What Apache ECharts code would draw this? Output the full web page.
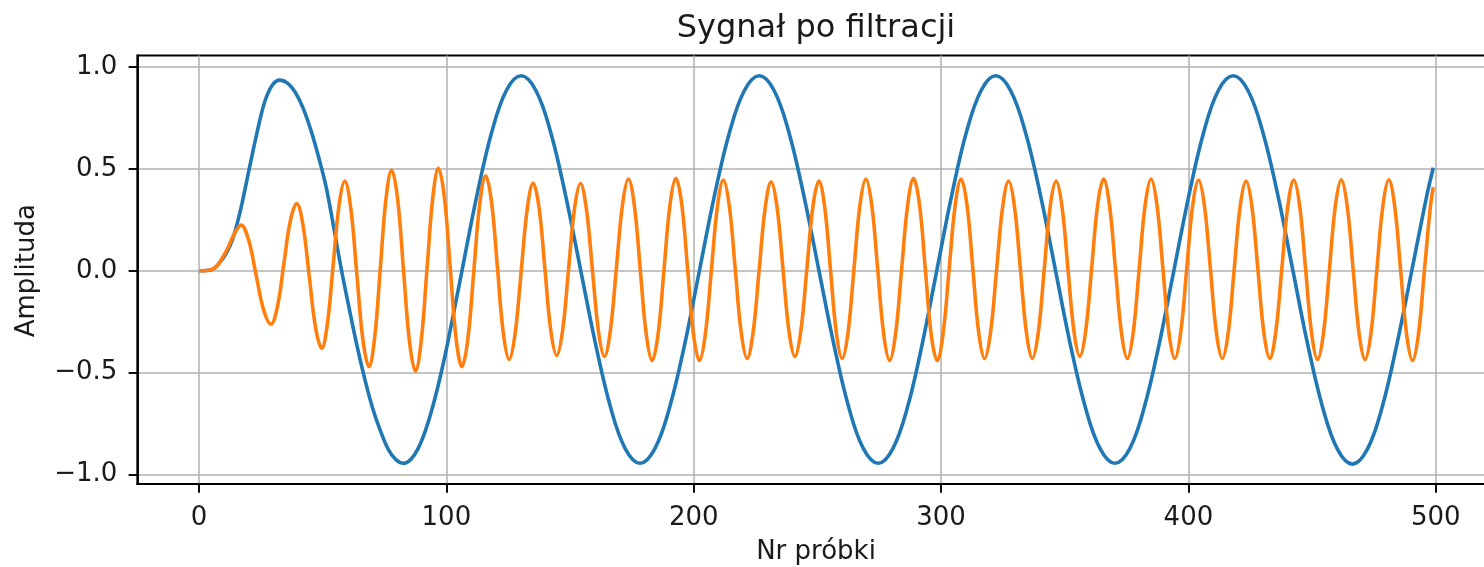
<!DOCTYPE html>
<html><head><meta charset="utf-8">
<script src="https://cdn.jsdelivr.net/npm/echarts@6/dist/echarts.min.js"></script>
<style>html,body{margin:0;padding:0;background:#fff}#c{width:1484px;height:567px}</style>
</head><body><div id="c"></div>
<script>
const titleText = 'Sygnał po filtracji';
const xName = 'Nr próbki';
const yName = 'Amplituda';
const xTicks = [0, 100, 200, 300, 400, 500];
const yTicks = [-1, -0.5, 0, 0.5, 1];

// blue trace: [sample, amplitude]
const blue = [
[0,0],[5,0.005],[8,0.035],[11,0.085],[14,0.17],[17,0.31],[20.3,0.5],[23.5,0.68],[26.6,0.83],[29.6,0.91],[32.7,0.935],
[35.8,0.92],[38.9,0.875],[42.0,0.8],[45.2,0.69],[48.3,0.56],[51.4,0.41],[54.5,0.21],[57.65,0.0],[60.8,-0.19],[63.9,-0.37],
[67.0,-0.53],[70.1,-0.67],[73.2,-0.78],[76.4,-0.873],[79.5,-0.925],[82.6,-0.944],[85.6,-0.925],[88.55,-0.872],
[91.5,-0.785],[94.5,-0.666],[97.5,-0.521],[100.45,-0.358],[106.4,0.006],[112.35,0.37],[118.3,0.678],[124.25,0.884],[130.2,0.956],
[136.2,0.884],[142.2,0.678],[148.2,0.37],[154.25,0.006],[160.3,-0.358],[166.3,-0.666],[172.3,-0.872],[178.3,-0.944],
[184.3,-0.872],[190.35,-0.666],[196.4,-0.358],[202.4,0.006],[208.4,0.37],[214.45,0.678],[220.5,0.884],[226.5,0.956],
[232.5,0.884],[238.5,0.678],[244.5,0.37],[250.55,0.006],[256.6,-0.358],[262.6,-0.666],[268.6,-0.872],[274.6,-0.944],
[280.5,-0.872],[286.5,-0.666],[292.4,-0.358],[298.35,0.006],[304.3,0.37],[310.2,0.678],[316.2,0.884],[322.1,0.956],
[328.1,0.884],[334.15,0.678],[340.2,0.37],[346.2,0.006],[352.2,-0.358],[358.25,-0.666],[364.3,-0.872],[370.3,-0.944],
[376.3,-0.872],[382.25,-0.666],[388.2,-0.358],[394.2,0.006],[400.2,0.37],[406.15,0.678],[412.1,0.884],[418.1,0.956],
[424.1,0.884],[430.15,0.677],[436.2,0.368],[442.2,0.004],[448.2,-0.36],[454.25,-0.669],[460.3,-0.876],[466.3,-0.948],
[472.3,-0.876],[478.3,-0.67],[484.3,-0.36],[490.3,0.0],[496.3,0.364],[499,0.505]
];

// orange trace: [sample, amplitude]
const orange = [
[0,0],[4,0.003],[7,0.02],[10,0.075],[12,0.12],[14,0.175],[17,0.224],
[20.0,0.153],[23.05,-0.019],[26.1,-0.191],[29.1,-0.262],
[31.7,-0.176],[34.3,0.034],[36.9,0.244],[39.5,0.33],
[42.0,0.227],[44.55,-0.025],[47.1,-0.277],[49.6,-0.38],
[51.9,-0.26],[54.25,0.03],[56.6,0.32],[58.9,0.44],
[61.35,0.307],[63.8,-0.015],[66.25,-0.337],[68.7,-0.47],
[71.0,-0.329],[73.3,0.012],[75.6,0.353],[77.9,0.494],
[80.3,0.35],[82.7,0.001],[85.1,-0.348],[87.5,-0.492],
[89.8,-0.347],[92.15,0.005],[94.5,0.357],[96.8,0.502],
[99.2,0.36],[101.55,0.016],[103.9,-0.328],[106.3,-0.47],
[108.7,-0.333],[111.1,-0.002],[113.5,0.329],[115.9,0.466],
[118.3,0.334],[120.65,0.016],[123.0,-0.303],[125.4,-0.435],
[127.8,-0.308],[130.25,-0.003],[132.7,0.303],[135.1,0.43],
[137.5,0.306],[139.85,0.008],[142.2,-0.291],[144.6,-0.415],
[147.0,-0.292],[149.4,0.007],[151.8,0.304],[154.2,0.428],
[156.6,0.304],[159.05,0.004],[161.5,-0.296],[163.9,-0.42],
[166.3,-0.293],[168.75,0.015],[171.2,0.323],[173.6,0.45],
[176.0,0.32],[178.4,0.005],[180.8,-0.31],[183.2,-0.44],
[185.6,-0.31],[188.0,0.007],[190.4,0.323],[192.8,0.453],
[195.2,0.323],[197.55,0.007],[199.9,-0.31],[202.3,-0.44],
[204.7,-0.311],[207.15,0.003],[209.6,0.316],[212.0,0.445],
[214.4,0.317],[216.8,0.008],[219.2,-0.302],[221.6,-0.43],
[224.0,-0.303],[226.45,0.003],[228.9,0.309],[231.3,0.436],
[233.7,0.311],[236.1,0.008],[238.5,-0.295],[240.9,-0.42],
[243.3,-0.295],[245.75,0.01],[248.2,0.315],[250.6,0.44],
[252.95,0.313],[255.3,0.005],[257.65,-0.303],[260.0,-0.43],
[262.4,-0.301],[264.8,0.01],[267.2,0.321],[269.6,0.45],
[272.0,0.32],[274.4,0.005],[276.8,-0.31],[279.2,-0.44],
[281.6,-0.31],[284.05,0.007],[286.5,0.323],[288.9,0.453],
[291.3,0.323],[293.65,0.007],[296.0,-0.31],[298.4,-0.44],
[300.8,-0.31],[303.25,0.005],[305.7,0.32],[308.1,0.45],
[310.5,0.321],[312.85,0.01],[315.2,-0.301],[317.6,-0.43],
[320.0,-0.303],[322.45,0.005],[324.9,0.313],[327.3,0.44],
[329.7,0.313],[332.1,0.005],[334.5,-0.303],[336.9,-0.43],
[339.3,-0.303],[341.7,0.005],[344.1,0.313],[346.5,0.44],
[348.9,0.314],[351.3,0.01],[353.7,-0.294],[356.1,-0.42],
[358.5,-0.293],[360.9,0.015],[363.3,0.323],[365.7,0.45],
[368.1,0.321],[370.5,0.01],[372.9,-0.301],[375.3,-0.43],
[377.7,-0.301],[380.1,0.01],[382.5,0.321],[384.9,0.45],
[387.3,0.321],[389.7,0.01],[392.1,-0.301],[394.5,-0.43],
[396.9,-0.302],[399.3,0.008],[401.7,0.317],[404.1,0.445],
[406.5,0.317],[408.9,0.008],[411.3,-0.302],[413.7,-0.43],
[416.1,-0.303],[418.5,0.005],[420.9,0.313],[423.3,0.44],
[425.7,0.313],[428.1,0.005],[430.5,-0.303],[432.9,-0.43],
[435.3,-0.302],[437.75,0.008],[440.2,0.317],[442.6,0.445],
[445.0,0.316],[447.4,0.005],[449.8,-0.306],[452.2,-0.435],
[454.6,-0.306],[457.0,0.006],[459.4,0.317],[461.8,0.446],
[464.2,0.317],[466.6,0.006],[469.0,-0.306],[471.4,-0.435],
[473.8,-0.306],[476.2,0.006],[478.6,0.317],[481.0,0.446],
[483.4,0.316],[485.8,0.003],[488.2,-0.311],[490.6,-0.44],
[493.0,-0.311],[495.4,0.0],[497.8,0.311],[499,0.41]
];

const FONT = '"DejaVu Sans", sans-serif';
const TXT = '#1a1a1a';
const chart = echarts.init(document.getElementById('c'), null, {renderer: 'canvas'});

const axisLineStyle = {color: '#000', width: 1.9};
const option = {
  animation: false,
  backgroundColor: '#fff',
  grid: {left: 137.3, right: -11, top: 55.5, bottom: 83, show: true,
         borderColor: '#000', borderWidth: 1.9, containLabel: false, outerBoundsMode: 'none'},
  xAxis: {
    type: 'value', min: -24.95, max: 523.95,
    axisLine: {show: true, onZero: false, lineStyle: axisLineStyle},
    axisTick: {show: true, length: 8.7, customValues: xTicks, lineStyle: axisLineStyle},
    axisLabel: {customValues: xTicks, margin: 21, fontSize: 26, fontFamily: FONT, color: TXT,
                formatter: v => String(v)},
    splitLine: {show: true, lineStyle: {color: '#b0b0b0', width: 1.5}}
  },
  yAxis: {
    type: 'value', min: -1.0455, max: 1.0555,
    axisLine: {show: true, onZero: false, lineStyle: axisLineStyle},
    axisTick: {show: true, length: 8.7, customValues: yTicks, lineStyle: axisLineStyle},
    axisLabel: {customValues: yTicks, margin: 20, fontSize: 26, fontFamily: FONT, color: TXT,
                formatter: v => (v < 0 ? '\u2212' : '') + Math.abs(v).toFixed(1)},
    splitLine: {show: true, lineStyle: {color: '#b0b0b0', width: 1.5}}
  },
  series: [
    {type: 'line', data: blue, smooth: 0.38, showSymbol: false, symbol: 'none',
     lineStyle: {color: '#1f77b4', width: 3.6}, itemStyle: {color: '#1f77b4'}},
    {type: 'line', data: orange, smooth: 0.38, showSymbol: false, symbol: 'none',
     lineStyle: {color: '#ff7f0e', width: 3.6}, itemStyle: {color: '#ff7f0e'}}
  ],
  graphic: [
    {type: 'text', x: 816, y: 29, style: {text: titleText, font: '32px ' + FONT, fill: TXT,
      align: 'center', verticalAlign: 'middle', textAlign: 'center', textVerticalAlign: 'middle'}},
    {type: 'text', x: 816, y: 552, style: {text: xName, font: '26px ' + FONT, fill: TXT,
      align: 'center', verticalAlign: 'middle', textAlign: 'center', textVerticalAlign: 'middle'}},
    {type: 'text', x: 27, y: 270.7, rotation: Math.PI / 2, style: {text: yName, font: '26px ' + FONT, fill: TXT,
      align: 'center', verticalAlign: 'middle', textAlign: 'center', textVerticalAlign: 'middle'}}
  ]
};
chart.setOption(option);
</script>
</body></html>
